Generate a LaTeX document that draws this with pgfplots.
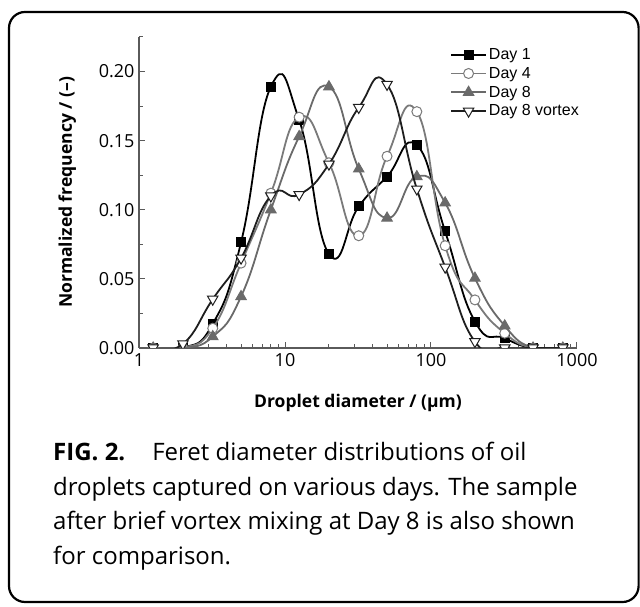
\documentclass[border=0pt]{standalone}
\usepackage{pgfplots}
\pgfplotsset{compat=1.18}
\usepackage{fontspec}
\setmainfont{Open Sans}
\newfontfamily\legendfont{Liberation Sans}

\definecolor{axisgray}{HTML}{5A5A5A}
\definecolor{dayfour}{HTML}{7A7A7A}
\definecolor{dayeight}{HTML}{6A6A6A}
\definecolor{vortexc}{HTML}{1E1E1E}

\begin{document}
\begin{tikzpicture}
\useasboundingbox (0pt,0pt) rectangle (640pt,607pt);
% figure frame
\draw[line width=2.2pt, rounded corners=16pt] (9pt,5pt) rectangle (638.6pt,595pt);

\begin{axis}[
  at={(139pt,259pt)}, anchor=south west,
  scale only axis, width=438pt, height=311pt,
  xmode=log, xmin=1, xmax=1000, ymin=0, ymax=0.225,
  clip marker paths=true,
  axis x line*=bottom, axis y line*=left,
  axis line style={-, axisgray, line width=1.3pt},
  every tick/.style={axisgray, line width=1pt},
  tick align=inside,
  major tick length=6pt, minor tick length=4pt,
  xtick={1,10,100,1000}, xticklabels={1,10,100,1000},
  ytick={0,0.05,0.10,0.15,0.20},
  minor ytick={0.025,0.075,0.125,0.175,0.225},
  /pgf/number format/assume math mode=true,
  yticklabel style={/pgf/number format/fixed, /pgf/number format/precision=2,
    /pgf/number format/fixed zerofill, font=\fontsize{18}{20}\selectfont, xshift=-1pt},
  xticklabel style={font=\fontsize{18}{20}\selectfont, yshift=-2pt},
  scaled y ticks=false,
  xlabel={\textbf{Droplet diameter / (μm)}},
  ylabel={\textbf{Normalized frequency / (–)}},
  x label style={at={(axis description cs:0.5,-0.177)}, anchor=center, font=\fontsize{17.5}{20}\selectfont},
  y label style={at={(axis description cs:-0.164,0.5)}, anchor=center, rotate=0, font=\fontsize{17.5}{20}\selectfont},
  legend cell align=left,
  legend image code/.code={\draw[mark repeat=2,mark phase=2,#1] plot coordinates {(0pt,0pt) (17.5pt,0pt) (35pt,0pt)};},
  legend style={at={(axis description cs:0.71,0.97)}, anchor=north west, draw=none, fill=none,
    inner sep=0pt, row sep=2.2pt, font=\legendfont\fontsize{16}{18}\selectfont,
    nodes={inner sep=2pt}},
  every axis plot/.append style={line width=1.8pt, smooth, tension=0.85},
]
\addplot[black, mark=square*, mark size=4.5pt, mark options={fill=black, line width=1pt}]
  coordinates {(1.25,0) (2,0) (3.2,0.0174) (5,0.0764) (8,0.189) (12.5,0.165) (20,0.068)
    (32,0.1024) (50,0.124) (80,0.1467) (125,0.0843) (200,0.0191) (320,0.007) (500,0) (800,0)};
\addlegendentry{Day 1}
\addplot[dayfour, mark=*, mark size=5pt, mark options={fill=white, line width=1pt}]
  coordinates {(1.25,0) (2,0) (3.2,0.0143) (5,0.0614) (8,0.112) (12.5,0.167) (20,0.134)
    (32,0.0812) (50,0.1387) (80,0.171) (125,0.074) (200,0.0348) (320,0.0107) (500,0) (800,0)};
\addlegendentry{Day 4}
\addplot[dayeight, mark=triangle*, mark size=6pt, mark options={fill=dayeight, line width=1pt}]
  coordinates {(1.25,0) (2,0) (3.2,0.0082) (5,0.0372) (8,0.100) (12.5,0.153) (20,0.189)
    (32,0.1295) (50,0.094) (80,0.124) (125,0.105) (200,0.0505) (320,0.016) (500,0) (800,0)};
\addlegendentry{Day 8}
\addplot[vortexc, mark=triangle*, mark size=6pt, mark options={fill=white, rotate=180, line width=1pt}]
  coordinates {(1.25,0) (2,0.003) (3.2,0.0353) (5,0.065) (8,0.110) (12.5,0.111) (20,0.133)
    (32,0.174) (50,0.1907) (80,0.115) (125,0.0585) (200,0.0046) (320,0) (500,0) (800,0)};
\addlegendentry{Day 8 vortex}
\end{axis}

% caption
\begin{scope}[every node/.style={anchor=base west, inner sep=0pt, font=\fontsize{24}{28}\selectfont}]
\node at (53pt,146pt) {\textbf{FIG. 2.}\hspace{27pt}Feret diameter distributions of oil};
\node at (53pt,111pt) {droplets captured on various days. The sample};
\node at (53pt,77pt) {after brief vortex mixing at Day 8 is also shown};
\node at (53pt,42pt) {for comparison.};
\end{scope}
\end{tikzpicture}
\end{document}
